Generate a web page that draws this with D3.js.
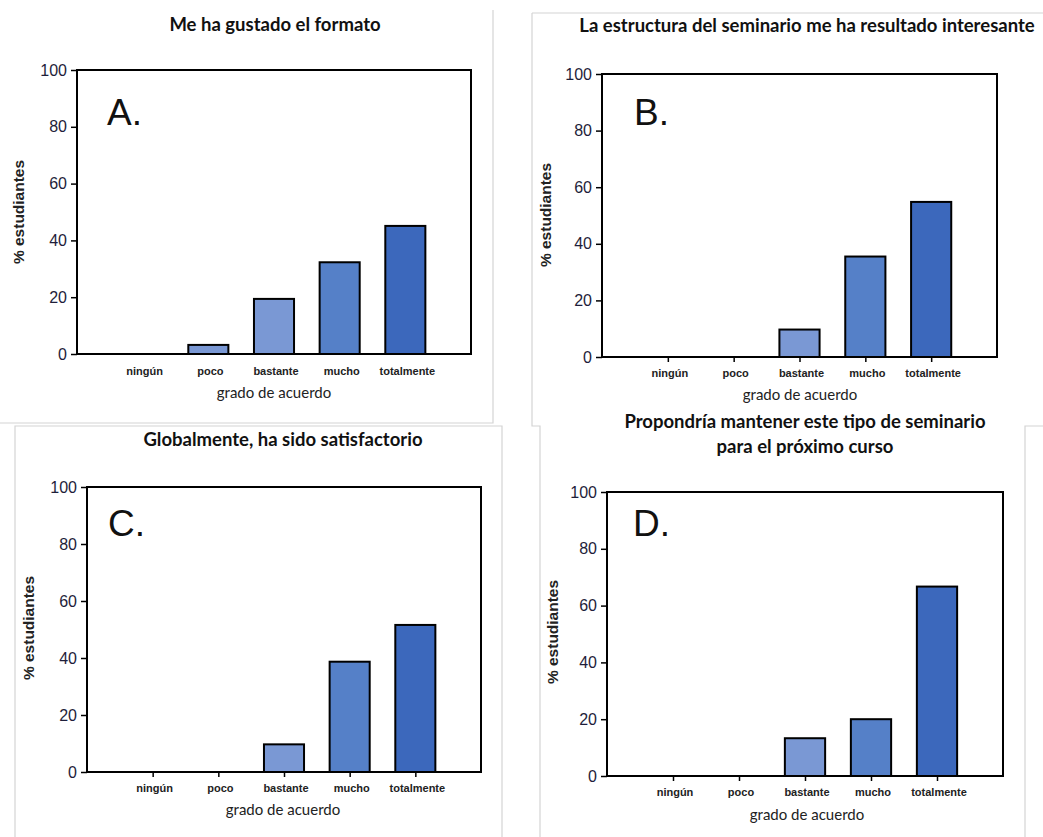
<!DOCTYPE html>
<html>
<head>
<meta charset="utf-8">
<script src="https://cdn.jsdelivr.net/npm/d3@7"></script>
<style>
  html, body { margin: 0; padding: 0; background: #fff; }
  svg { display: block; }
</style>
</head>
<body>
<svg id="chart" width="1043" height="837"></svg>
<script>
// ---- data ----
const categories = ["ningún", "poco", "bastante", "mucho", "totalmente"];
const valuesA = [0, 3.2, 19.4, 32.3, 45.1];
const valuesB = [0, 0, 9.7, 35.5, 54.8];
const valuesC = [0, 0, 9.7, 38.7, 51.6];
const valuesD = [0, 0, 13.3, 20.0, 66.7];
const yTicks = [0, 20, 40, 60, 80, 100];
const titleA = ["Me ha gustado el formato"];
const titleB = ["La estructura del seminario me ha resultado interesante"];
const titleC = ["Globalmente, ha sido satisfactorio"];
const titleD = ["Propondría mantener este tipo de seminario", "para el próximo curso"];
const panelLetters = ["A.", "B.", "C.", "D."];
const yAxisLabel = "% estudiantes";
const xAxisLabel = "grado de acuerdo";
const barColors = ["#7a98d4", "#7a98d4", "#7a98d4", "#5580c8", "#3c68bc"];

// ---- layout ----
const panels = [
  { values: valuesA, title: titleA, letter: panelLetters[0], xTicks: false,
    frame: { l: 77, t: 70, r: 471, b: 354 }, titleX: 275, titleY: 31,
    letterX: 107, letterY: 125, ylabX: 19, ylabY: 212, catY: 375, xlabX: 274, xlabY: 398 },
  { values: valuesB, title: titleB, letter: panelLetters[1], xTicks: true,
    frame: { l: 602, t: 74, r: 997, b: 357 }, titleX: 807, titleY: 32,
    letterX: 634, letterY: 125, ylabX: 546, ylabY: 215, catY: 377, xlabX: 800, xlabY: 400 },
  { values: valuesC, title: titleC, letter: panelLetters[2], xTicks: true,
    frame: { l: 87, t: 487, r: 481, b: 772 }, titleX: 283, titleY: 446,
    letterX: 108, letterY: 536, ylabX: 29, ylabY: 628, catY: 792, xlabX: 283, xlabY: 815 },
  { values: valuesD, title: titleD, letter: panelLetters[3], xTicks: true,
    frame: { l: 607, t: 492, r: 1003, b: 776 }, titleX: 805, titleY: 428,
    letterX: 633, letterY: 536, ylabX: 553, ylabY: 632, catY: 796, xlabX: 807, xlabY: 820 }
];

const svg = d3.select("#chart");

// panel borders (light gray)
const borderPaths = [
  "M493,10 V423 H0",
  "M532,13 H1043 M532,13 V426 H540 V837",
  "M15,837 V426 H502 V837",
  "M1025,837 V426 H1043"
];
svg.append("g").selectAll("path").data(borderPaths).join("path")
  .attr("d", d => d).attr("fill", "none").attr("stroke", "#d4d4d4").attr("stroke-width", 1.2);

panels.forEach(p => {
  const f = p.frame;
  const g = svg.append("g");
  const x = d3.scaleLinear().domain([0, categories.length + 1]).range([f.l, f.r]);
  const y = d3.scaleLinear().domain([0, 100]).range([f.b, f.t]);
  const step = x(1) - x(0);
  const bw = step * 0.61;

  // bars
  g.selectAll("rect.bar").data(p.values.map((v, i) => ({ v, i })).filter(d => d.v > 0))
    .join("rect").attr("class", "bar")
    .attr("x", d => x(d.i + 1) - bw / 2)
    .attr("width", bw)
    .attr("y", d => y(d.v))
    .attr("height", d => y(0) - y(d.v))
    .attr("fill", d => barColors[d.i])
    .attr("stroke", "#000").attr("stroke-width", 2);

  // frame
  g.append("rect").attr("x", f.l).attr("y", f.t).attr("width", f.r - f.l).attr("height", f.b - f.t)
    .attr("fill", "none").attr("stroke", "#000").attr("stroke-width", 2);

  // y axis
  const yAxis = d3.axisLeft(y).tickValues(yTicks).tickSize(6).tickPadding(4).tickFormat(d3.format("d"));
  const ya = g.append("g").attr("transform", `translate(${f.l},0)`).call(yAxis);
  ya.select(".domain").remove();
  ya.selectAll("line").attr("stroke", "#000").attr("stroke-width", 1.5);
  ya.selectAll("text").attr("font-family", "Liberation Sans, Arial, sans-serif")
    .attr("font-size", 16).attr("fill", "#1e1e3a");

  // x axis
  const xAxis = d3.axisBottom(x).tickValues(categories.map((c, i) => i + 1))
    .tickSize(p.xTicks ? 5 : 0).tickFormat(() => "");
  const xa = g.append("g").attr("transform", `translate(0,${f.b})`).call(xAxis);
  xa.select(".domain").remove();
  xa.selectAll("line").attr("stroke", "#000").attr("stroke-width", 1.5);

  g.selectAll("text.cat").data(categories).join("text").attr("class", "cat")
    .attr("x", (d, i) => x(i + 1) + 2).attr("y", p.catY)
    .attr("text-anchor", "middle")
    .attr("font-family", "Liberation Sans, Arial, sans-serif").attr("font-weight", "bold")
    .attr("font-size", 11).attr("fill", "#222").text(d => d);

  // axis labels
  g.append("text").attr("x", p.xlabX).attr("y", p.xlabY).attr("text-anchor", "middle")
    .attr("font-family", "Lato, sans-serif").attr("font-size", 15).attr("fill", "#222").text(xAxisLabel);
  g.append("text").attr("transform", `translate(${p.ylabX + 5},${p.ylabY}) rotate(-90)`)
    .attr("text-anchor", "middle")
    .attr("font-family", "Liberation Sans, Arial, sans-serif").attr("font-weight", "bold")
    .attr("font-size", 15.5).attr("fill", "#222").text(yAxisLabel);

  // panel letter
  g.append("text").attr("x", p.letterX).attr("y", p.letterY)
    .attr("font-family", "Liberation Sans, Arial, sans-serif").attr("font-size", 37)
    .attr("fill", "#111").text(p.letter);

  // title
  g.selectAll("text.title").data(p.title).join("text").attr("class", "title")
    .attr("x", p.titleX).attr("y", (d, i) => p.titleY + i * 25)
    .attr("text-anchor", "middle")
    .attr("font-family", "Lato, sans-serif").attr("font-weight", "bold")
    .attr("font-size", 18.5).attr("fill", "#111").text(d => d);
});
</script>
</body>
</html>
